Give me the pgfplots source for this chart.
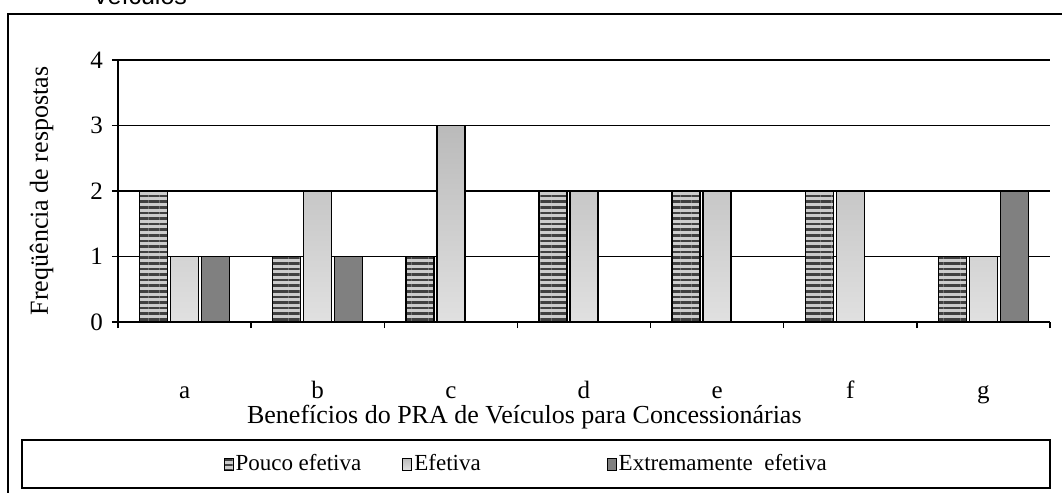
\documentclass[border=0pt]{standalone}
\usepackage{pgfplots}
\pgfplotsset{compat=1.18}
\usepackage{fontspec}
\setmainfont{Liberation Serif}
\newfontfamily\arial{Liberation Sans}
\usetikzlibrary{patterns.meta}
\pgfplotsset{
  legrect/.style={legend image code/.code={\draw[##1,line width=0.5pt] (0pt,-3pt) rectangle (4.5pt,3pt);}},
}
\begin{document}
\begin{tikzpicture}[x=1pt,y=1pt]
\useasboundingbox (-59,-85.5) rectangle (472,161);
\clip (-59,-85.5) rectangle (472,161);
\draw[line width=0.8pt] (-55,-95) rectangle (490,154);
\node[font=\arial\fontsize{12.5}{14}\selectfont, anchor=base west, inner sep=0] at (-13,158.5) {Veículos};
\draw[line width=0.8pt] (-48,-59) rectangle (466,-83);
\begin{axis}[at={(0,0)}, anchor=south west,
  width=466pt, height=131pt, scale only axis,
  xmin=-0.5, xmax=6.5, ymin=0, ymax=4,
  axis x line*=bottom, axis y line*=left,
  axis line style={-, line width=0.7pt, black},
  xtick={0,...,6}, xticklabels={a,b,c,d,e,f,g},
  major x tick style={draw=none},
  minor xtick={-0.5,0.5,...,6.5},
  ytick={0,...,4},
  ymajorgrids, grid style={black, line width=0.8pt},
  tick align=outside, major tick length=3pt, minor tick length=3pt,
  tick style={black, line width=0.7pt},
  /pgf/number format/assume math mode=true,
  tick label style={font=\fontsize{12.5}{14}\selectfont},
  xticklabel style={anchor=base, yshift=-35pt},
  yticklabel style={xshift=-1pt},
  label style={font=\fontsize{13}{15}\selectfont},
  xlabel={Benefícios do PRA de Veículos para Concessionárias},
  xlabel style={at={(axis description cs:0.436,-0.362)}, anchor=center},
  ylabel={Freqüência de respostas},
  ylabel style={at={(axis description cs:-0.082,0.5)}, anchor=center},
  ybar, bar width=14pt,
  legend columns=3,
  legend style={at={(axis description cs:0.438,-0.542)}, anchor=center, draw=none, fill=none,
    font=\fontsize{11.5}{13}\selectfont, nodes={inner sep=1pt},
    /tikz/column 2/.style={column sep=19.5pt},
    /tikz/column 4/.style={column sep=62pt}},
]
\addplot[bar shift=-15.5pt, draw=black, line width=0.7pt, fill=black!20,
  postaction={pattern={Lines[angle=0,distance=2.8pt,line width=1.3pt]}, pattern color=black!75}, legrect]
  coordinates {(0,2)(1,1)(2,1)(3,2)(4,2)(5,2)(6,1)};
\addlegendentry{Pouco efetiva}
\addplot[bar shift=0pt, draw=black, line width=0.7pt, top color=black!27, bottom color=black!12, legrect]
  coordinates {(0,1)(1,2)(2,3)(3,2)(4,2)(5,2)(6,1)};
\addlegendentry{Efetiva}
\addplot[bar shift=15.5pt, draw=black, line width=0.7pt, fill=black!50, legrect]
  coordinates {(0,1)(1,1)(6,2)};
\addlegendentry{Extremamente\ \ efetiva}
\end{axis}
\end{tikzpicture}
\end{document}
